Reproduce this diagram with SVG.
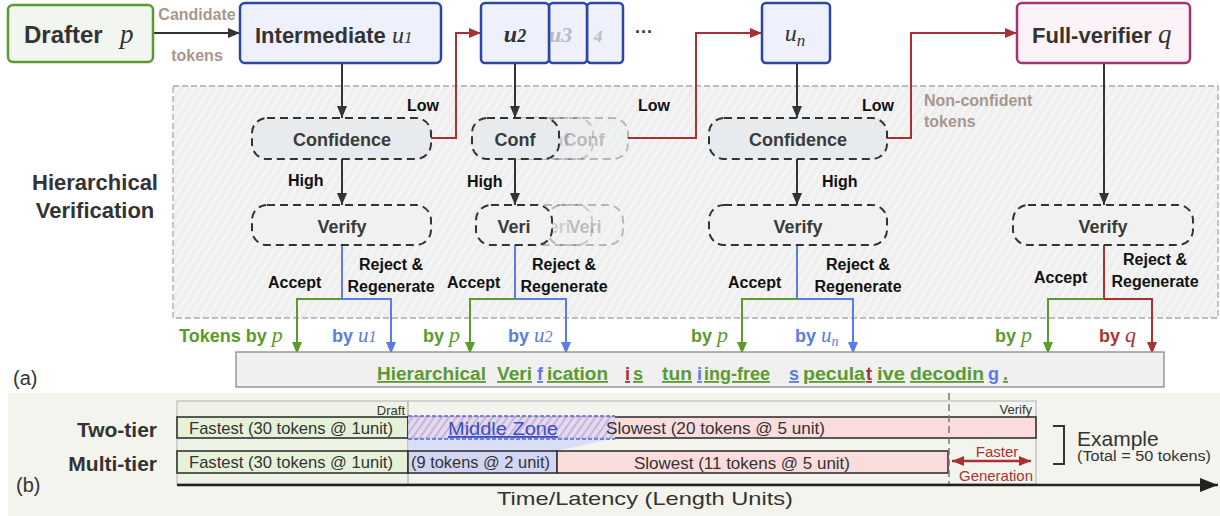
<svg xmlns="http://www.w3.org/2000/svg" width="1220" height="516" viewBox="0 0 1220 516">
<style>
.b{font-family:"Liberation Sans",Arial,sans-serif;font-weight:bold}
.r{font-family:"Liberation Sans",Arial,sans-serif}
.m{font-family:"Liberation Serif","DejaVu Serif",serif;font-style:italic}
.lbl{font-size:16px;fill:#111}
.node{font-size:18px;fill:#3a3a3a}
.dash{stroke:#333;stroke-width:2;stroke-dasharray:8 5}
.conf{fill:#e8ebee}
.ver{fill:#f1f1f1}
.ghost{stroke:#333;stroke-width:2;stroke-dasharray:8 5;stroke-opacity:0.3;fill:#e8ebee;fill-opacity:0.3}
.gt{font-size:18px;fill:#3a3a3a;fill-opacity:0.3}
.blk{stroke:#333;stroke-width:2;fill:none}
.grn{stroke:#5a9a2e;stroke-width:2;fill:none}
.blu{stroke:#5a7be8;stroke-width:2;fill:none}
.red{stroke:#a83232;stroke-width:2;fill:none}
.note{font-size:16px;fill:#a8968f}
.tk{font-size:18px;text-decoration:underline}
.g{fill:#5a9a2e}.bl{fill:#5a7be8}.rd{fill:#a83232}
.bar{stroke:#333;stroke-width:1.6}
.bt{font-size:17px;fill:#333}
</style>
<defs>
<marker id="aK" markerUnits="userSpaceOnUse" markerWidth="12" markerHeight="10" refX="12" refY="5" orient="auto"><path d="M0,0 L12,5 L0,10 z" fill="#333"/></marker>
<marker id="aR" markerUnits="userSpaceOnUse" markerWidth="12" markerHeight="10" refX="12" refY="5" orient="auto"><path d="M0,0 L12,5 L0,10 z" fill="#a83232"/></marker>
<marker id="aRs" markerUnits="userSpaceOnUse" markerWidth="12" markerHeight="10" refX="0" refY="5" orient="auto"><path d="M12,0 L0,5 L12,10 z" fill="#a83232"/></marker>
<marker id="aG" markerUnits="userSpaceOnUse" markerWidth="12" markerHeight="10" refX="12" refY="5" orient="auto"><path d="M0,0 L12,5 L0,10 z" fill="#5a9a2e"/></marker>
<marker id="aB" markerUnits="userSpaceOnUse" markerWidth="12" markerHeight="10" refX="12" refY="5" orient="auto"><path d="M0,0 L12,5 L0,10 z" fill="#5a7be8"/></marker>
<marker id="aAx" markerUnits="userSpaceOnUse" markerWidth="18" markerHeight="14" refX="18" refY="7" orient="auto"><path d="M0,0 L18,7 L0,14 z" fill="#222"/></marker>
<pattern id="hatch" width="7" height="7" patternUnits="userSpaceOnUse" patternTransform="rotate(32)"><rect width="7" height="7" fill="#efefef"/><line x1="1" y1="0" x2="1" y2="7" stroke="#fafafa" stroke-width="1.3"/></pattern>
<pattern id="hatchB" width="6" height="6" patternUnits="userSpaceOnUse" patternTransform="rotate(35)"><rect width="6" height="6" fill="#e9d8e8"/><line x1="1" y1="0" x2="1" y2="6" stroke="#8090ee" stroke-width="1"/></pattern>
</defs>

<!-- region (a) background -->
<rect x="173" y="86" width="1045" height="232" fill="url(#hatch)" stroke="#aaa" stroke-width="1.3" stroke-dasharray="6 3"/>
<text class="b" x="95" y="190" font-size="22" fill="#333" text-anchor="middle">Hierarchical</text>
<text class="b" x="95" y="218" font-size="22" fill="#333" text-anchor="middle">Verification</text>
<text class="r" x="13" y="385" font-size="20" fill="#333">(a)</text>

<!-- connectors -->
<g id="connectors">
<path class="blk" d="M153,33 H240" marker-end="url(#aK)"/>
<path class="blk" d="M342,63 V118" marker-end="url(#aK)"/>
<path class="blk" d="M342,159 V205" marker-end="url(#aK)"/>
<path class="blk" d="M515,63 V118" marker-end="url(#aK)"/>
<path class="blk" d="M515,159 V205" marker-end="url(#aK)"/>
<path class="blk" d="M797,63 V118" marker-end="url(#aK)"/>
<path class="blk" d="M797,159 V205" marker-end="url(#aK)"/>
<path class="blk" d="M1104,63 V205" marker-end="url(#aK)"/>
<path class="red" d="M431,138 H456 V33 H481" marker-end="url(#aR)"/>
<path class="red" d="M628,138 H696 V33 H762" marker-end="url(#aR)"/>
<path class="red" d="M887,138 H911 V33 H1017" marker-end="url(#aR)"/>
<path class="blu" d="M342,245 V299"/>
<path class="grn" d="M342,299 H297 V354" marker-end="url(#aG)"/>
<path class="blu" d="M342,299 H391 V354" marker-end="url(#aB)"/>
<path class="blu" d="M515,245 V299"/>
<path class="grn" d="M515,299 H470 V354" marker-end="url(#aG)"/>
<path class="blu" d="M515,299 H566 V354" marker-end="url(#aB)"/>
<path class="blu" d="M797,245 V299"/>
<path class="grn" d="M797,299 H742 V354" marker-end="url(#aG)"/>
<path class="blu" d="M797,299 H853 V354" marker-end="url(#aB)"/>
<path class="red" d="M1104,245 V299"/>
<path class="grn" d="M1104,299 H1048 V354" marker-end="url(#aG)"/>
<path class="red" d="M1104,299 H1152 V354" marker-end="url(#aR)"/>
</g>

<!-- connector labels -->
<g id="labels">
<text class="b note" x="197" y="20" text-anchor="middle">Candidate</text>
<text class="b note" x="197" y="61" text-anchor="middle">tokens</text>
<text class="b note" x="924" y="106">Non-confident</text>
<text class="b note" x="924" y="127">tokens</text>
<text class="b lbl" x="407" y="111">Low</text>
<text class="b lbl" x="638" y="111">Low</text>
<text class="b lbl" x="862" y="111">Low</text>
<text class="b lbl" x="288" y="186">High</text>
<text class="b lbl" x="467" y="187">High</text>
<text class="b lbl" x="822" y="187">High</text>
<text class="b lbl" x="268" y="288">Accept</text>
<text class="b lbl" x="391" y="270" text-anchor="middle">Reject &amp;</text>
<text class="b lbl" x="391" y="292" text-anchor="middle">Regenerate</text>
<text class="b lbl" x="447" y="288">Accept</text>
<text class="b lbl" x="564" y="270" text-anchor="middle">Reject &amp;</text>
<text class="b lbl" x="564" y="292" text-anchor="middle">Regenerate</text>
<text class="b lbl" x="728" y="288">Accept</text>
<text class="b lbl" x="858" y="270" text-anchor="middle">Reject &amp;</text>
<text class="b lbl" x="858" y="292" text-anchor="middle">Regenerate</text>
<text class="b lbl" x="1034" y="283">Accept</text>
<text class="b lbl" x="1155" y="265" text-anchor="middle">Reject &amp;</text>
<text class="b lbl" x="1155" y="287" text-anchor="middle">Regenerate</text>
<text class="b g" x="179" y="342" font-size="18">Tokens by <tspan class="m" font-weight="normal" font-size="22">p</tspan></text>
<text class="b bl" x="332" y="342" font-size="18">by <tspan class="m" font-weight="normal" font-size="21">u</tspan><tspan class="m" font-weight="normal" font-size="16">1</tspan></text>
<text class="b g" x="423" y="342" font-size="18">by <tspan class="m" font-weight="normal" font-size="22">p</tspan></text>
<text class="b bl" x="508" y="342" font-size="18">by <tspan class="m" font-weight="normal" font-size="21">u</tspan><tspan class="m" font-weight="normal" font-size="16">2</tspan></text>
<text class="b g" x="691" y="342" font-size="18">by <tspan class="m" font-weight="normal" font-size="22">p</tspan></text>
<text class="b bl" x="795" y="342" font-size="18">by <tspan class="m" font-weight="normal" font-size="21">u</tspan><tspan class="m" font-weight="normal" font-size="14" dy="4">n</tspan></text>
<text class="b g" x="995" y="342" font-size="18">by <tspan class="m" font-weight="normal" font-size="22">p</tspan></text>
<text class="b rd" x="1099" y="342" font-size="18">by <tspan class="m" font-weight="normal" font-size="22">q</tspan></text>
</g>

<!-- top nodes -->
<g id="drafter">
<rect x="8" y="5" width="145" height="57" rx="5" fill="#f3f6f0" stroke="#5a9a2e" stroke-width="2.5"/>
<text class="b" x="24" y="43" font-size="24" fill="#333">Drafter</text>
<text class="m" x="120" y="43" font-size="27" fill="#333">p</text>
</g>
<g id="intermediate-u1">
<rect x="240" y="3" width="201" height="60" rx="5" fill="#eef0fb" stroke="#2c46a8" stroke-width="2.5"/>
<text class="b" x="255" y="43" font-size="22" fill="#333">Intermediate</text>
<text class="m" x="392" y="43" font-size="24" fill="#333">u<tspan font-size="17">1</tspan></text>
</g>
<g id="u4">
<rect x="587" y="3" width="36" height="60" rx="4" fill="#eef0fb" stroke="#2c46a8" stroke-width="2.5"/>
<text class="m" x="594" y="42" font-size="17" font-weight="bold" fill="#bbb">4</text>
</g>
<g id="u3">
<rect x="549" y="3" width="38" height="60" rx="4" fill="#eef0fb" stroke="#2c46a8" stroke-width="2.5"/>
<text class="m" x="549" y="42" font-size="22" font-weight="bold" fill="#bbb">u3</text>
</g>
<g id="u2">
<rect x="481" y="3" width="68" height="60" rx="4" fill="#eef0fb" stroke="#2c46a8" stroke-width="2.5"/>
<text class="m" x="515" y="42" font-size="24" font-weight="bold" fill="#333" text-anchor="middle">u<tspan font-size="18">2</tspan></text>
</g>
<text class="b" x="644" y="38" font-size="18" fill="#333" text-anchor="middle">···</text>
<g id="un">
<rect x="762" y="3" width="68" height="60" rx="4" fill="#eef0fb" stroke="#2c46a8" stroke-width="2.5"/>
<text class="m" x="795" y="41" font-size="24" fill="#333" text-anchor="middle">u<tspan font-size="17" dy="5">n</tspan></text>
</g>
<g id="full-verifier">
<rect x="1017" y="3" width="173" height="60" rx="5" fill="#fbf3f8" stroke="#a3346e" stroke-width="2.5"/>
<text class="b" x="1032" y="43" font-size="22" fill="#333">Full-verifier</text>
<text class="m" x="1158" y="43" font-size="27" fill="#333">q</text>
</g>

<!-- column 1 -->
<g id="confidence-1">
<rect class="dash conf" x="252" y="118" width="179" height="41" rx="15"/>
<text class="b node" x="342" y="146" text-anchor="middle">Confidence</text>
</g>
<g id="verify-1">
<rect class="dash ver" x="252" y="205" width="179" height="40" rx="15"/>
<text class="b node" x="342" y="233" text-anchor="middle">Verify</text>
</g>
<!-- column 2 -->
<g id="confidence-2">
<rect class="ghost" x="506" y="118" width="87" height="41" rx="15"/>
<text class="b gt" x="549" y="146" text-anchor="middle">Conf</text>
<rect class="ghost" x="541" y="118" width="87" height="41" rx="15"/>
<text class="b gt" x="584" y="146" text-anchor="middle">Conf</text>
<rect class="dash conf" x="472" y="118" width="87" height="41" rx="15"/>
<text class="b node" x="515" y="146" text-anchor="middle">Conf</text>
</g>
<g id="verify-2">
<rect class="ghost" x="516" y="205" width="76" height="40" rx="15" style="fill:#f1f1f1"/>
<text class="b gt" x="554" y="233" text-anchor="middle">Veri</text>
<rect class="ghost" x="547" y="205" width="76" height="40" rx="15" style="fill:#f1f1f1"/>
<text class="b gt" x="585" y="233" text-anchor="middle">Veri</text>
<rect class="dash ver" x="476" y="205" width="76" height="40" rx="15"/>
<text class="b node" x="514" y="233" text-anchor="middle">Veri</text>
</g>
<!-- column 3 -->
<g id="confidence-n">
<rect class="dash conf" x="709" y="118" width="178" height="41" rx="15"/>
<text class="b node" x="798" y="146" text-anchor="middle">Confidence</text>
</g>
<g id="verify-n">
<rect class="dash ver" x="709" y="205" width="178" height="40" rx="15"/>
<text class="b node" x="798" y="233" text-anchor="middle">Verify</text>
</g>
<!-- column 4 -->
<g id="verify-q">
<rect class="dash ver" x="1013" y="205" width="180" height="40" rx="15"/>
<text class="b node" x="1103" y="233" text-anchor="middle">Verify</text>
</g>

<!-- output sentence -->
<g id="output-text">
<rect x="236" y="352" width="928" height="35" fill="#f0f0f0" stroke="#888" stroke-width="1.3"/>
<text class="b tk g" x="377" y="380" textLength="109" lengthAdjust="spacingAndGlyphs">Hierarchical</text>
<text class="b tk g" x="497" y="380" textLength="35" lengthAdjust="spacingAndGlyphs">Veri</text>
<text class="b tk bl" x="537" y="380">f</text>
<text class="b tk g" x="547" y="380" textLength="61" lengthAdjust="spacingAndGlyphs">ication</text>
<text class="b tk rd" x="625" y="380">i</text>
<text class="b tk g" x="633" y="380">s</text>
<text class="b tk g" x="662" y="380" textLength="30" lengthAdjust="spacingAndGlyphs">tun</text>
<text class="b tk bl" x="697" y="380">i</text>
<text class="b tk g" x="704" y="380" textLength="66" lengthAdjust="spacingAndGlyphs">ing-free</text>
<text class="b tk bl" x="789" y="380">s</text>
<text class="b tk g" x="803" y="380" textLength="62" lengthAdjust="spacingAndGlyphs">pecula</text>
<text class="b tk rd" x="866" y="380">t</text>
<text class="b tk g" x="877" y="380" textLength="28" lengthAdjust="spacingAndGlyphs">ive</text>
<text class="b tk g" x="910" y="380" textLength="74" lengthAdjust="spacingAndGlyphs">decodin</text>
<text class="b tk bl" x="988" y="380">g</text>
<text class="b tk g" x="1003" y="380">.</text>
</g>

<!-- part (b) -->
<g id="part-b">
<rect x="8" y="393" width="1212" height="123" fill="#f4f4ee"/>
<rect x="177" y="401" width="231" height="83" fill="#eef3e6"/>
<rect x="177" y="401" width="859" height="83" fill="none" stroke="#c6c6c6" stroke-width="1.5"/>
<line x1="408" y1="401" x2="408" y2="484" stroke="#b8b8b8" stroke-width="1.5"/>
<text class="r" x="405" y="415" font-size="13" fill="#333" text-anchor="end">Draft</text>
<text class="r" x="1032" y="414" font-size="13" fill="#333" text-anchor="end">Verify</text>
<text class="b" x="157" y="437" font-size="21" fill="#333" text-anchor="end">Two-tier</text>
<text class="b" x="157" y="471" font-size="21" fill="#333" text-anchor="end">Multi-tier</text>
<text class="r" x="16" y="492" font-size="20" fill="#333">(b)</text>

<g id="two-tier">
<rect class="bar" x="177" y="417" width="231" height="21" fill="#e6f2d8"/>
<rect class="bar" x="408" y="417" width="628" height="21" fill="#fadcdc"/>
<polygon points="408,438 615,438 557,451 408,451" fill="#d6dbf6" opacity="0.9"/>
<rect x="408" y="416" width="207" height="23" fill="url(#hatchB)" opacity="0.9"/>
<line x1="408" y1="416" x2="615" y2="416" stroke="#5566cc" stroke-width="1.3" stroke-dasharray="4 2"/>
<line x1="408" y1="439" x2="615" y2="439" stroke="#5566cc" stroke-width="1.3" stroke-dasharray="4 2"/>
<text class="r bt" x="189" y="434" textLength="204" lengthAdjust="spacingAndGlyphs">Fastest (30 tokens @ 1unit)</text>
<text class="r" x="448" y="435" font-size="18" fill="#3a4fc4" textLength="110" lengthAdjust="spacingAndGlyphs" text-decoration="underline">Middle  Zone</text>
<text class="r bt" x="606" y="434" textLength="219" lengthAdjust="spacingAndGlyphs">Slowest (20 tokens @ 5 unit)</text>
</g>
<g id="multi-tier">
<rect class="bar" x="177" y="451" width="231" height="22" fill="#e6f2d8"/>
<rect class="bar" x="408" y="451" width="149" height="22" fill="#d2d5f3" stroke-width="2"/>
<rect class="bar" x="557" y="451" width="391" height="22" fill="#fadcdc"/>
<text class="r bt" x="189" y="468" textLength="204" lengthAdjust="spacingAndGlyphs">Fastest (30 tokens @ 1unit)</text>
<text class="r bt" x="411" y="468" textLength="139" lengthAdjust="spacingAndGlyphs">(9 tokens @ 2 unit)</text>
<text class="r bt" x="634" y="469" textLength="216" lengthAdjust="spacingAndGlyphs">Slowest (11 tokens @ 5 unit)</text>
</g>
<line x1="949" y1="393" x2="949" y2="484" stroke="#777" stroke-width="1.5" stroke-dasharray="7 4"/>
<path d="M952,461 H1031" stroke="#a83232" stroke-width="2.5" fill="none" marker-start="url(#aRs)" marker-end="url(#aR)"/>
<text class="r" x="997" y="457" font-size="15" fill="#a83232" text-anchor="middle">Faster</text>
<text class="r" x="996" y="481" font-size="15" fill="#a83232" text-anchor="middle" textLength="74" lengthAdjust="spacingAndGlyphs">Generation</text>
<path d="M1053,426 H1064 V464 H1053" stroke="#333" stroke-width="2" fill="none"/>
<text class="r" x="1077" y="446" font-size="21" fill="#333">Example</text>
<text class="r" x="1077" y="461" font-size="14" fill="#333" textLength="134" lengthAdjust="spacingAndGlyphs">(Total = 50 tokens)</text>
<path d="M177,485 H1218" stroke="#222" stroke-width="2.5" fill="none" marker-end="url(#aAx)"/>
<text class="r" x="497" y="505" font-size="19" fill="#333" textLength="296" lengthAdjust="spacingAndGlyphs">Time/Latency (Length Units)</text>
</g>
</svg>
